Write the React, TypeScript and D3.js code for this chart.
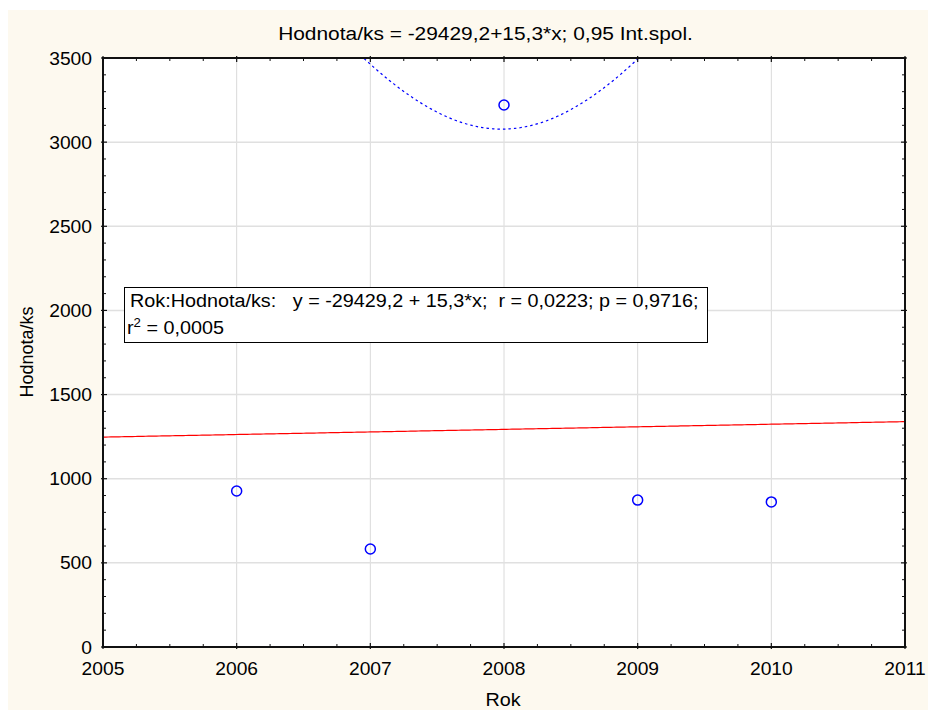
import React from "react";
import * as d3 from "d3";

const years = [2006, 2007, 2008, 2009, 2010];
const values = [927, 582, 3221, 873, 862];
const xTicks = [2005, 2006, 2007, 2008, 2009, 2010, 2011];
const yTicks = [0, 500, 1000, 1500, 2000, 2500, 3000, 3500];
const intercept = -29429.2;
const slope = 15.3;
const tCrit = 3.182; // t(0.975, df=3)
const titleText = "Hodnota/ks = -29429,2+15,3*x; 0,95 Int.spol.";
const legendLine1 = "Rok:Hodnota/ks:   y = -29429,2 + 15,3*x;  r = 0,0223; p = 0,9716;";
const xLabel = "Rok";
const yLabel = "Hodnota/ks";

const W = 928;
const H = 711;
const L = 103, R = 905, T = 58, B = 647;
const FONT = "'Liberation Sans', Arial, sans-serif";
const SX = 1.1;
const FS = 17.5;

function St({ x, y, anchor = "start", size = FS, children }: any) {
  return (
    <text
      transform={`translate(${x},${y}) scale(${SX},1)`}
      textAnchor={anchor}
      fontSize={size}
      fontFamily={FONT}
      fill="#000"
    >
      {children}
    </text>
  );
}

export default function App() {
  const x = d3.scaleLinear().domain([2005, 2011]).range([L, R]);
  const y = d3.scaleLinear().domain([0, 3500]).range([B, T]);

  const n = years.length;
  const mx = d3.mean(years)!;
  const sxx = d3.sum(years, (v) => (v - mx) ** 2);
  const sse = d3.sum(years, (v, i) => (values[i] - (intercept + slope * v)) ** 2);
  const s = Math.sqrt(sse / (n - 2));
  const fit = (v: number) => intercept + slope * v;
  const half = (v: number) => tCrit * s * Math.sqrt(1 / n + (v - mx) ** 2 / sxx);

  const samples = d3.range(2005, 2011.0001, 0.02);
  const line = d3
    .line<number>()
    .x((v) => x(v))
    .y((v) => y(fit(v)));
  const upper = d3
    .line<number>()
    .x((v) => x(v))
    .y((v) => y(fit(v) + half(v)));
  const lower = d3
    .line<number>()
    .x((v) => x(v))
    .y((v) => y(fit(v) - half(v)));

  const xMinor = d3.range(2005, 2011.001, 0.25).filter((v) => Math.abs(v - Math.round(v)) > 0.01);
  const yMinor = d3.range(0, 3500.1, 100).filter((v) => v % 500 !== 0);

  return (
    <div style={{ position: "absolute", left: 0, top: 0, width: W, height: H, overflow: "hidden" }}>
      <svg width={W} height={H} style={{ display: "block" }}>
        <defs>
          <clipPath id="plotclip">
            <rect x={L} y={T} width={R - L} height={B - T} />
          </clipPath>
        </defs>
        <rect x={0} y={0} width={W} height={H} fill="#fff" />
        <rect x={8} y={10} width={W - 8} height={700} fill="#fdf9ef" />
        <rect x={L} y={T} width={R - L} height={B - T} fill="#fff" />

        {/* grid */}
        {xTicks.slice(1, -1).map((t) => (
          <line key={"gx" + t} x1={x(t)} x2={x(t)} y1={T} y2={B} stroke="#dadada" strokeWidth={1} />
        ))}
        {yTicks.slice(1, -1).map((t) => (
          <line key={"gy" + t} x1={L} x2={R} y1={y(t)} y2={y(t)} stroke="#e0e0e0" strokeWidth={1.5} />
        ))}

        <g clipPath="url(#plotclip)">
          <path d={line(samples)!} fill="none" stroke="#ff0000" strokeWidth={1.2} />
          <path d={upper(samples)!} fill="none" stroke="#0000ff" strokeWidth={1.2} strokeDasharray="2.5,3" />
          <path d={lower(samples)!} fill="none" stroke="#0000ff" strokeWidth={1.2} strokeDasharray="2.5,3" />
        </g>

        {years.map((yr, i) => (
          <circle key={yr} cx={x(yr)} cy={y(values[i])} r={5} fill="none" stroke="#0000ff" strokeWidth={1.5} />
        ))}

        {/* frame */}
        <rect x={L} y={T} width={R - L} height={B - T} fill="none" stroke="#111" strokeWidth={2} />

        {/* ticks */}
        {xTicks.map((t) => (
          <g key={"xt" + t}>
            <line x1={x(t)} x2={x(t)} y1={B + 2} y2={B - 4} stroke="#111" strokeWidth={1.2} />
            <line x1={x(t)} x2={x(t)} y1={T - 2} y2={T + 4} stroke="#111" strokeWidth={1.2} />
          </g>
        ))}
        {xMinor.map((t) => (
          <g key={"xm" + t}>
            <line x1={x(t)} x2={x(t)} y1={B} y2={B - 3} stroke="#111" strokeWidth={1} />
            <line x1={x(t)} x2={x(t)} y1={T} y2={T + 3} stroke="#111" strokeWidth={1} />
          </g>
        ))}
        {yTicks.map((t) => (
          <g key={"yt" + t}>
            <line x1={L - 2} x2={L + 4} y1={y(t)} y2={y(t)} stroke="#111" strokeWidth={1.2} />
            <line x1={R + 2} x2={R - 4} y1={y(t)} y2={y(t)} stroke="#111" strokeWidth={1.2} />
          </g>
        ))}
        {yMinor.map((t) => (
          <g key={"ym" + t}>
            <line x1={L} x2={L + 3} y1={y(t)} y2={y(t)} stroke="#111" strokeWidth={1} />
            <line x1={R} x2={R - 3} y1={y(t)} y2={y(t)} stroke="#111" strokeWidth={1} />
          </g>
        ))}

        {/* tick labels */}
        {yTicks.map((t) => (
          <St key={"yl" + t} x={92} y={y(t) + 6.5} anchor="end">
            {String(t)}
          </St>
        ))}
        {xTicks.map((t) => (
          <St key={"xl" + t} x={x(t)} y={675} anchor="middle">
            {String(t)}
          </St>
        ))}

        {/* title */}
        <St x={485.5} y={40} anchor="middle" size={19}>
          {titleText}
        </St>

        {/* axis labels */}
        <St x={503} y={706} anchor="middle" size={18}>
          {xLabel}
        </St>
        <text
          transform={`translate(33,352) rotate(-90)`}
          textAnchor="middle"
          fontSize={18}
          fontFamily={FONT}
        >
          {yLabel}
        </text>

        {/* legend box */}
        <rect x={124.5} y={287.5} width={583} height={55} fill="#fff" stroke="#000" strokeWidth={1} />
        <text
          transform={`translate(130,307) scale(${SX},1)`}
          fontSize={18}
          fontFamily={FONT}
          xmlSpace="preserve"
          style={{ whiteSpace: "pre" }}
        >
          {legendLine1}
        </text>
        <text transform={`translate(127,334) scale(${SX},1)`} fontSize={18} fontFamily={FONT}>
          r<tspan fontSize={12} dy={-7}>2</tspan>
          <tspan dy={7}> = 0,0005</tspan>
        </text>
      </svg>
    </div>
  );
}
